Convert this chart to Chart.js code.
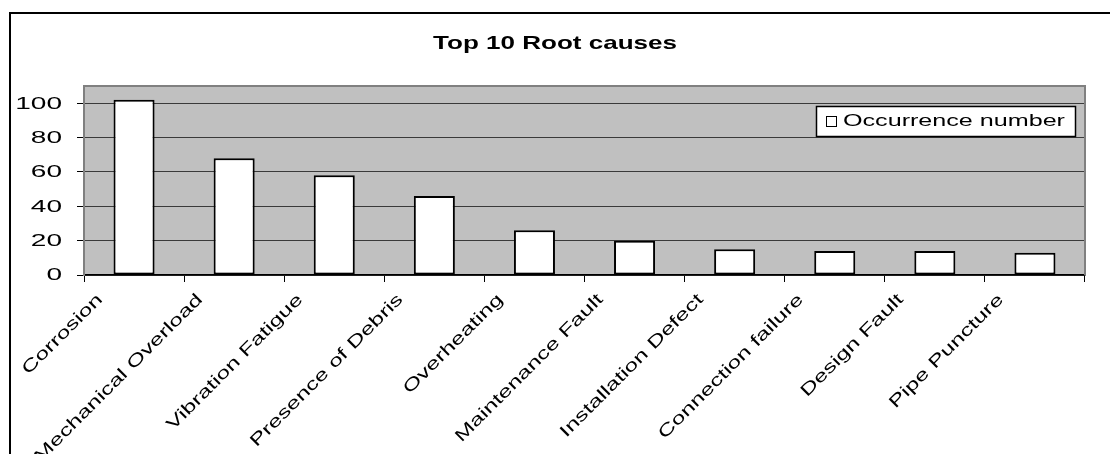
<!DOCTYPE html>
<html>
<head>
<meta charset="utf-8">
<title>Top 10 Root causes</title>
<script src="https://cdn.jsdelivr.net/npm/chart.js@4.4.1/dist/chart.umd.min.js"></script>
<style>
  html, body { margin: 0; padding: 0; background: #ffffff; }
  #wrap { width: 1110px; height: 454px; position: relative; overflow: hidden; }
  canvas { display: block; }
</style>
</head>
<body>
<div id="wrap"><canvas id="chart" width="1110" height="454"></canvas></div>
<script>
// Root causes, ranked by how often they occurred
const categories = [
  'Corrosion',
  'Mechanical Overload',
  'Vibration Fatigue',
  'Presence of Debris',
  'Overheating',
  'Maintenance Fault',
  'Installation Defect',
  'Connection failure',
  'Design Fault',
  'Pipe Puncture'
];
const occurrences = [102, 68, 58, 46, 26, 20, 15, 14, 14, 13];
const yTickValues = [0, 20, 40, 60, 80, 100];
const seriesName = 'Occurrence number';
const chartTitle = 'Top 10 Root causes';

const FONT = '"Liberation Sans", Arial, sans-serif';

// Draw text widened along its own baseline, optionally rotated
function wideText(ctx, text, x, y, opts) {
  const ang = opts.angle || 0;
  const sx = opts.sx || 1;
  const c = Math.cos(ang), s = Math.sin(ang);
  ctx.save();
  ctx.setTransform(c * sx, s * sx, -s, c, x, y);
  ctx.font = opts.font;
  ctx.fillStyle = '#000';
  ctx.textAlign = opts.align || 'left';
  ctx.textBaseline = opts.baseline || 'alphabetic';
  ctx.fillText(text, 0, 0);
  ctx.restore();
}

const frame = {
  id: 'frame',
  beforeDraw(chart) {
    const { ctx, chartArea: a } = chart;
    ctx.save();
    ctx.fillStyle = '#ffffff';
    ctx.fillRect(0, 0, chart.width, chart.height);
    // outer chart border (runs off the right and bottom edges)
    ctx.strokeStyle = '#000';
    ctx.lineWidth = 2;
    ctx.strokeRect(10, 13, chart.width + 20, chart.height + 20);
    // plot area
    ctx.fillStyle = '#c0c0c0';
    ctx.fillRect(a.left, a.top, a.right - a.left, a.bottom - a.top);
    ctx.restore();
  },
  afterDraw(chart) {
    const { ctx, chartArea: a } = chart;
    const xs = chart.scales.x;
    const ys = chart.scales.y;

    // plot area outline
    ctx.save();
    ctx.strokeStyle = '#808080';
    ctx.lineWidth = 2;
    ctx.beginPath();
    ctx.moveTo(a.left, a.bottom);
    ctx.lineTo(a.left, a.top);
    ctx.lineTo(a.right, a.top);
    ctx.lineTo(a.right, a.bottom);
    ctx.stroke();
    ctx.restore();

    // title
    wideText(ctx, chartTitle, 555, 44, {
      font: 'bold 19px ' + FONT, sx: 1.37, align: 'center', baseline: 'middle'
    });

    // value axis labels
    yTickValues.forEach(v => {
      wideText(ctx, String(v), 62, ys.getPixelForValue(v) + 1, {
        font: '16px ' + FONT, sx: 1.75, align: 'right', baseline: 'middle'
      });
    });

    // category labels, slanted at 45 degrees
    categories.forEach((c, i) => {
      const cx = xs.getPixelForValue(i);
      wideText(ctx, c, cx - 34, a.bottom + 22, {
        font: '17px ' + FONT, sx: 1.44, align: 'right', baseline: 'middle', angle: -Math.PI / 4
      });
    });

    // legend
    const lx = 816, ly = 106, lw = 259, lh = 30;
    ctx.save();
    ctx.fillStyle = '#ffffff';
    ctx.fillRect(lx, ly, lw, lh);
    ctx.strokeStyle = '#000';
    ctx.lineWidth = 1.5;
    ctx.strokeRect(lx + 0.5, ly + 0.5, lw, lh);
    ctx.fillStyle = '#ffffff';
    ctx.fillRect(826, 116, 11, 11);
    ctx.lineWidth = 1;
    ctx.strokeRect(826.5, 116.5, 10, 10);
    ctx.restore();
    wideText(ctx, seriesName, 843, ly + lh / 2 + 1, {
      font: '16px ' + FONT, sx: 1.57, align: 'left', baseline: 'middle'
    });
  }
};

new Chart(document.getElementById('chart'), {
  type: 'bar',
  data: {
    labels: categories,
    datasets: [{
      label: seriesName,
      data: occurrences,
      backgroundColor: '#ffffff',
      borderColor: '#000000',
      borderWidth: 2,
      borderSkipped: false,
      barPercentage: 0.41,
      categoryPercentage: 1.0
    }]
  },
  options: {
    responsive: false,
    animation: false,
    devicePixelRatio: 1,
    layout: { padding: { left: 84, top: 86, right: 25, bottom: 179 } },
    plugins: {
      legend: { display: false },
      title: { display: false },
      tooltip: { enabled: false }
    },
    scales: {
      x: {
        type: 'category',
        offset: true,
        afterFit(scale) { scale.height = 0; },
        grid: {
          offset: true,
          drawOnChartArea: false,
          drawTicks: true,
          tickLength: 7,
          tickColor: '#000',
          tickWidth: 1
        },
        border: { display: true, color: '#000', width: 1.5 },
        ticks: { display: false }
      },
      y: {
        min: 0,
        max: 110,
        afterFit(scale) { scale.width = 0; },
        afterBuildTicks(scale) {
          scale.ticks = yTickValues.map(v => ({ value: v }));
        },
        grid: {
          color: '#3a3a3a',
          lineWidth: 1,
          drawTicks: true,
          tickLength: 7,
          tickColor: '#000',
          tickWidth: 1
        },
        border: { display: true, color: '#808080', width: 2 },
        ticks: { display: false }
      }
    }
  },
  plugins: [frame]
});
</script>
</body>
</html>
